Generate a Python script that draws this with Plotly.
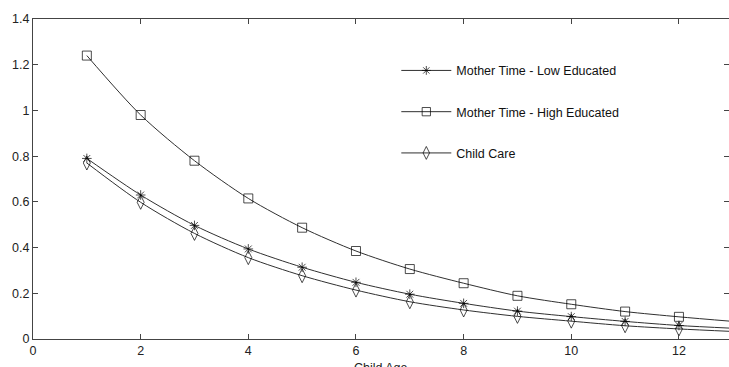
import plotly.graph_objects as go

child_age = [1, 2, 3, 4, 5, 6, 7, 8, 9, 10, 11, 12, 13]
mother_low = [0.79, 0.63, 0.497, 0.394, 0.314, 0.248, 0.196, 0.156, 0.122, 0.098, 0.077, 0.059, 0.047]
mother_high = [1.24, 0.98, 0.78, 0.615, 0.487, 0.385, 0.306, 0.244, 0.189, 0.152, 0.12, 0.097, 0.077]
child_care = [0.77, 0.598, 0.462, 0.356, 0.277, 0.214, 0.163, 0.127, 0.099, 0.078, 0.058, 0.044, 0.033]

x_ticks = [0, 2, 4, 6, 8, 10, 12]
y_ticks = [0, 0.2, 0.4, 0.6, 0.8, 1, 1.2, 1.4]
y_tick_text = ["0", "0.2", "0.4", "0.6", "0.8", "1", "1.2", "1.4"]

LINE = "#303030"
FONT = "Liberation Sans, Arial, sans-serif"
FS = 12.5

fig = go.Figure()
series = [
    ("Mother Time - Low Educated", mother_low, "asterisk-open", 8, "g1"),
    ("Mother Time - High Educated", mother_high, "square-open", 9, "g2"),
    ("Child Care", child_care, "diamond-tall-open", 10, "g3"),
]
for name, vals, sym, size, grp in series:
    sizes = [size] * (len(child_age) - 1) + [0]
    fig.add_trace(go.Scatter(
        x=child_age, y=vals, name=name, mode="lines+markers",
        line=dict(color=LINE, width=1, shape="spline", smoothing=0.8),
        marker=dict(symbol=sym, size=sizes, color="black", line=dict(color="black", width=1)),
        legendgroup=grp,
    ))

fig.update_layout(
    width=729, height=367,
    margin=dict(l=33, r=0, t=19, b=28),
    paper_bgcolor="white", plot_bgcolor="white",
    font=dict(family=FONT, size=FS, color="#222"),
    showlegend=True,
    legend=dict(
        x=0.522, y=0.885, xanchor="left", yanchor="top",
        bgcolor="rgba(0,0,0,0)", borderwidth=0,
        traceorder="grouped", tracegroupgap=22, itemwidth=50,
        itemsizing="trace",
        font=dict(family=FONT, size=FS, color="#111"),
    ),
    xaxis=dict(
        range=[0, 12.93], tickvals=x_ticks, ticktext=[str(v) for v in x_ticks],
        showgrid=False, zeroline=False, showline=True, linecolor="#444", linewidth=1,
        mirror="ticks", ticks="inside", ticklen=5, tickcolor="#444",
        tickfont=dict(family=FONT, size=FS, color="#222"),
    ),
    yaxis=dict(
        range=[0, 1.4], tickvals=y_ticks, ticktext=y_tick_text,
        showgrid=False, zeroline=False, showline=True, linecolor="#444", linewidth=1,
        mirror="ticks", ticks="inside", ticklen=5, tickcolor="#444",
        tickfont=dict(family=FONT, size=FS, color="#222"),
    ),
    annotations=[dict(
        text="Child Age", xref="paper", yref="paper", x=(381 - 33) / 696, y=-(359 - 339) / 320,
        xanchor="center", yanchor="top", showarrow=False,
        font=dict(family=FONT, size=FS, color="#222"),
    )],
)

fig.write_html("out.html")
